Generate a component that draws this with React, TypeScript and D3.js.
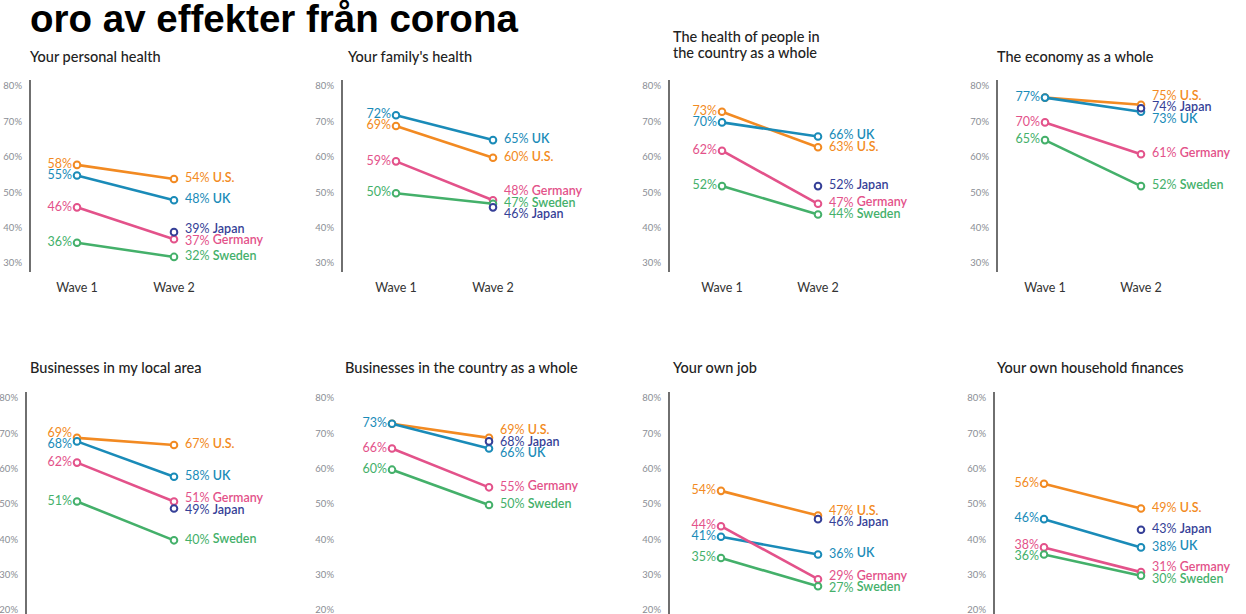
import React from 'react';
import * as d3 from 'd3';

// Worry about effects of corona, two survey waves, eight topics
const mainTitle = 'oro av effekter från corona';
const topics = [
  'Your personal health',
  "Your family's health",
  'The health of people in\nthe country as a whole',
  'The economy as a whole',
  'Businesses in my local area',
  'Businesses in the country as a whole',
  'Your own job',
  'Your own household finances',
];
const waves = ['Wave 1', 'Wave 2'];
const countries = ['U.S.', 'UK', 'Germany', 'Sweden', 'Japan'];

const usWave1 = [58, 69, 73, 77, 69, 73, 54, 56];
const usWave2 = [54, 60, 63, 75, 67, 69, 47, 49];
const ukWave1 = [55, 72, 70, 77, 68, 73, 41, 46];
const ukWave2 = [48, 65, 66, 73, 58, 66, 36, 38];
const germanyWave1 = [46, 59, 62, 70, 62, 66, 44, 38];
const germanyWave2 = [37, 48, 47, 61, 51, 55, 29, 31];
const swedenWave1 = [36, 50, 52, 65, 51, 60, 35, 36];
const swedenWave2 = [32, 47, 44, 52, 40, 50, 27, 30];
// Japan was only asked in wave 2
const japanWave1 = [null, null, null, null, null, null, null, null];
const japanWave2 = [39, 46, 52, 74, 49, 68, 46, 43];

const topTicks = [30, 40, 50, 60, 70, 80];
const bottomTicks = [20, 30, 40, 50, 60, 70, 80];

const seriesValues: (number | null)[][][] = [
  [usWave1, usWave2],
  [ukWave1, ukWave2],
  [germanyWave1, germanyWave2],
  [swedenWave1, swedenWave2],
  [japanWave1, japanWave2],
];

const colors: Record<string, string> = {
  'U.S.': '#f28a22',
  UK: '#1a8bb8',
  Germany: '#e3528a',
  Sweden: '#44b06a',
  Japan: '#353f97',
};

const W = 1246;
const H = 614;
const labelFont = 'Lato, "Noto Sans", sans-serif';

// panel placement (pixels)
const layout = [
  { axisX: 30, w1: 77, w2: 174, titleX: 30, row: 0, axis: true },
  { axisX: 342, w1: 396, w2: 493, titleX: 348, row: 0, axis: true },
  { axisX: 669, w1: 722, w2: 818, titleX: 673, row: 0, axis: true },
  { axisX: 997, w1: 1045, w2: 1141, titleX: 997, row: 0, axis: true },
  { axisX: 26, w1: 77, w2: 174, titleX: 30, row: 1, axis: true },
  { axisX: 342, w1: 392, w2: 489, titleX: 345, row: 1, axis: false },
  { axisX: 669, w1: 721, w2: 818, titleX: 673, row: 1, axis: true },
  { axisX: 994, w1: 1044, w2: 1141, titleX: 997, row: 1, axis: true },
];

const rows = [
  { domain: [30, 80], range: [264, 87], ticks: topTicks, titleY: 61.5, waveLabels: true },
  { domain: [20, 80], range: [611, 399], ticks: bottomTicks, titleY: 373, waveLabels: false },
];

type Label = { key: string; name: string; value: number; y: number; color: string };

// push overlapping labels apart vertically
function relax(labels: Label[], gap: number) {
  const sorted = [...labels].sort((a, b) => a.y - b.y);
  for (let iter = 0; iter < 30; iter++) {
    let moved = false;
    for (let i = 1; i < sorted.length; i++) {
      const d = sorted[i].y - sorted[i - 1].y;
      if (d < gap) {
        const shift = (gap - d) / 2;
        sorted[i - 1].y -= shift;
        sorted[i].y += shift;
        moved = true;
      }
    }
    if (!moved) break;
  }
  return sorted;
}

function Panel({ index }: { index: number }) {
  const lay = layout[index];
  const row = rows[lay.row];
  const y = d3.scaleLinear().domain(row.domain).range(row.range);
  const x = d3.scalePoint<string>().domain(waves).range([lay.w1, lay.w2]);
  const line = d3
    .line<{ wave: string; value: number }>()
    .x((d) => x(d.wave)!)
    .y((d) => y(d.value));

  const series = countries.map((name, ci) => ({
    name,
    color: colors[name],
    points: waves
      .map((wave, wi) => ({ wave, value: seriesValues[ci][wi][index] as number | null }))
      .filter((p) => p.value != null) as { wave: string; value: number }[],
  }));

  // wave 1 labels: one per distinct value, last drawn wins
  const w1Map = new Map<number, Label>();
  series.forEach((s) => {
    const p = s.points.find((q) => q.wave === waves[0]);
    if (p) w1Map.set(p.value, { key: s.name, name: s.name, value: p.value, y: y(p.value), color: s.color });
  });
  const w1Labels = relax([...w1Map.values()], 11);
  const w2Labels = relax(
    series
      .map((s) => {
        const p = s.points.find((q) => q.wave === waves[1]);
        return p ? { key: s.name, name: s.name, value: p.value, y: y(p.value), color: s.color } : null;
      })
      .filter(Boolean) as Label[],
    11.5
  );

  const titleLines = topics[index].split('\n');
  const titleTop = titleLines.length > 1 ? row.titleY - 20 : row.titleY;
  const axisTop = row.range[1] - 7;
  const axisBottom = row.range[0] + 8;

  return (
    <g>
      <text
        x={lay.titleX}
        y={titleTop}
        fontFamily={labelFont}
        fontSize={14.5}
        fill="#222"
        fontWeight={500}
      >
        {titleLines.map((t, i) => (
          <tspan key={i} x={lay.titleX} dy={i === 0 ? 0 : 16.5}>
            {t}
          </tspan>
        ))}
      </text>
      {row.ticks.map((t) => (
        <text
          key={t}
          x={lay.axisX - 8}
          y={y(t)}
          textAnchor="end"
          dominantBaseline="middle"
          fontFamily={labelFont}
          fontSize={9.5}
          fill="#8a8d94"
        >
          {t}%
        </text>
      ))}
      {lay.axis && (
        <line x1={lay.axisX} x2={lay.axisX} y1={axisTop} y2={axisBottom} stroke="#222" strokeWidth={1.3} />
      )}
      {row.waveLabels &&
        waves.map((w) => (
          <text
            key={w}
            x={x(w)}
            y={axisBottom + 20}
            textAnchor="middle"
            fontFamily={labelFont}
            fontSize={12.5}
            fill="#333"
          >
            {w}
          </text>
        ))}
      {series.map((s) => (
        <g key={s.name}>
          {s.points.length > 1 && (
            <path d={line(s.points)!} fill="none" stroke={s.color} strokeWidth={2.6} />
          )}
          {s.points.map((p) => (
            <circle
              key={p.wave}
              cx={x(p.wave)}
              cy={y(p.value)}
              r={3.3}
              fill="#fff"
              stroke={s.color}
              strokeWidth={2}
            />
          ))}
        </g>
      ))}
      {w1Labels.map((l) => (
        <text
          key={l.key}
          x={lay.w1 - 5}
          y={l.y}
          textAnchor="end"
          dominantBaseline="middle"
          fontFamily={labelFont}
          fontSize={12.5}
          fill={l.color}
        >
          {l.value}%
        </text>
      ))}
      {w2Labels.map((l) => (
        <text
          key={l.key}
          x={lay.w2 + 11}
          y={l.y}
          dominantBaseline="middle"
          fontFamily={labelFont}
          fontSize={12.5}
          fill={l.color}
        >
          {l.value}%{' '}
          <tspan fontWeight={600}>{l.name}</tspan>
        </text>
      ))}
    </g>
  );
}

export default function App() {
  return (
    <div style={{ position: 'absolute', left: 0, top: 0, width: W, height: H, overflow: 'hidden', background: '#fff' }}>
      <svg width={W} height={H} viewBox={`0 0 ${W} ${H}`}>
        <rect width={W} height={H} fill="#fff" />
        <text
          x={30}
          y={32}
          fontFamily='"Liberation Sans", Arial, sans-serif'
          fontWeight="bold"
          fontSize={38.5}
          fill="#000"
        >
          {mainTitle}
        </text>
        {topics.map((_, i) => (
          <Panel key={i} index={i} />
        ))}
      </svg>
    </div>
  );
}
